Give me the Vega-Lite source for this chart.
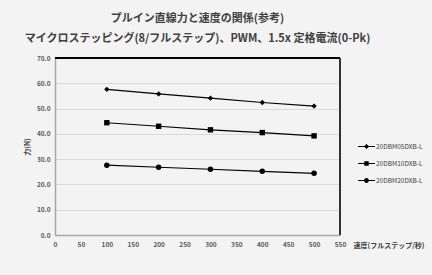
{
  "$schema": "https://vega.github.io/schema/vega-lite/v6.json",
  "autosize": "none",
  "width": 285,
  "height": 177,
  "padding": {"left": 55, "top": 58, "right": 92, "bottom": 40},
  "background": "#f3f3f3",
  "config": {
    "font": "Noto Sans CJK JP",
    "view": {"stroke": null}
  },
  "title": {
    "text": ["プルイン直線力と速度の関係(参考)", "マイクロステッピング(8/フルステップ)、PWM、1.5x 定格電流(0-Pk)"],
    "anchor": "middle",
    "frame": "group",
    "fontSize": 11,
    "fontWeight": "bold",
    "color": "#404040",
    "lineHeight": 20,
    "offset": 11
  },
  "data": {
    "values": [
      {"speed": 100, "force": 57.6, "model": "20DBM05DXB-L"},
      {"speed": 200, "force": 55.8, "model": "20DBM05DXB-L"},
      {"speed": 300, "force": 54.1, "model": "20DBM05DXB-L"},
      {"speed": 400, "force": 52.4, "model": "20DBM05DXB-L"},
      {"speed": 500, "force": 51.0, "model": "20DBM05DXB-L"},
      {"speed": 100, "force": 44.4, "model": "20DBM10DXB-L"},
      {"speed": 200, "force": 43.0, "model": "20DBM10DXB-L"},
      {"speed": 300, "force": 41.6, "model": "20DBM10DXB-L"},
      {"speed": 400, "force": 40.5, "model": "20DBM10DXB-L"},
      {"speed": 500, "force": 39.2, "model": "20DBM10DXB-L"},
      {"speed": 100, "force": 27.6, "model": "20DBM20DXB-L"},
      {"speed": 200, "force": 26.8, "model": "20DBM20DXB-L"},
      {"speed": 300, "force": 26.0, "model": "20DBM20DXB-L"},
      {"speed": 400, "force": 25.2, "model": "20DBM20DXB-L"},
      {"speed": 500, "force": 24.4, "model": "20DBM20DXB-L"}
    ]
  },
  "encoding": {
    "x": {
      "field": "speed", "type": "quantitative",
      "scale": {"domain": [0, 550], "nice": false, "zero": true},
      "axis": {
        "values": [0, 50, 100, 150, 200, 250, 300, 350, 400, 450, 500, 550],
        "title": "速度(フルステップ/秒)",
        "titleAnchor": "start",
        "titleAlign": "left",
        "titleBaseline": "middle",
        "titleX": 298,
        "titleY": 10,
        "titleFontSize": 7,
        "titleFontWeight": "bold",
        "titleColor": "#404040",
        "labelFontSize": 6.5,
        "labelFontWeight": "bold",
        "labelColor": "#595959",
        "labelPadding": 6,
        "labelFlush": false,
        "ticks": false,
        "grid": false,
        "domainColor": "#a6a6a6",
        "domainWidth": 1.5
      }
    },
    "y": {
      "field": "force", "type": "quantitative",
      "scale": {"domain": [0, 70], "nice": false},
      "axis": {
        "values": [0, 10, 20, 30, 40, 50, 60, 70],
        "format": ".1f",
        "title": "力(N)",
        "titleFontSize": 7,
        "titleFontWeight": "bold",
        "titleColor": "#404040",
        "titlePadding": 6,
        "labelFontSize": 6.5,
        "labelFontWeight": "bold",
        "labelColor": "#595959",
        "labelPadding": 5,
        "ticks": false,
        "gridColor": "#d9d9d9",
        "gridWidth": 1,
        "domainColor": "#a6a6a6",
        "domainWidth": 1.5
      }
    }
  },
  "layer": [
    {
      "mark": {"type": "rule", "color": "black", "strokeWidth": 1.5},
      "encoding": {"x": {"datum": 0}, "x2": {"datum": 550}, "y": {"datum": 70}}
    },
    {
      "mark": {"type": "rule", "color": "#333333", "strokeWidth": 1.5},
      "encoding": {"x": {"datum": 550}, "y": {"datum": 0}, "y2": {"datum": 70}}
    },
    {
      "mark": {"type": "line", "color": "black", "strokeWidth": 1.2},
      "encoding": {"detail": {"field": "model"}}
    },
    {
      "mark": {"type": "point", "filled": true, "color": "black", "opacity": 1},
      "encoding": {
        "shape": {
          "field": "model", "type": "nominal",
          "scale": {"range": ["diamond", "square", "circle"]},
          "legend": null
        },
        "size": {
          "field": "model", "type": "nominal",
          "scale": {"range": [28, 30, 32]},
          "legend": null
        }
      }
    },
    {
      "mark": {"type": "point", "filled": true, "color": "black", "opacity": 0},
      "encoding": {
        "shape": {
          "field": "model", "type": "nominal",
          "scale": {"range": [
            "M-1,-0.07H1V0.07H-1Z M0,-0.3L0.3,0L0,0.3L-0.3,0Z",
            "M-1,-0.07H1V0.07H-1Z M-0.26,-0.26H0.26V0.26H-0.26Z",
            "M-1,-0.07H1V0.07H-1Z M0.28,0A0.28,0.28 0 1,1 -0.28,0A0.28,0.28 0 1,1 0.28,0Z"
          ]},
          "legend": {
            "title": null,
            "orient": "none",
            "legendX": 303,
            "legendY": 80,
            "symbolSize": 289,
            "symbolOpacity": 1,
            "symbolFillColor": "black",
            "symbolStrokeColor": "black",
            "symbolStrokeWidth": 0,
            "labelFontSize": 6.5,
            "labelColor": "#404040",
            "labelOffset": 1,
            "rowPadding": 5
          }
        }
      }
    }
  ],
  "resolve": {"scale": {"shape": "independent", "size": "independent"}, "legend": {"shape": "independent"}}
}
